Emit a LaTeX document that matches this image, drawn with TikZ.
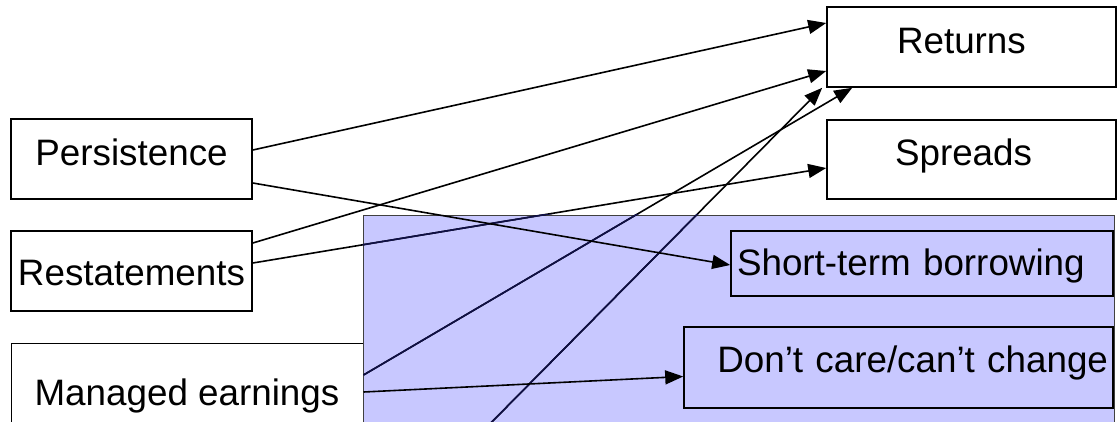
\documentclass[tikz,border=0pt]{standalone}
\usepackage{fontspec}
\setmainfont{Liberation Sans}
\usetikzlibrary{arrows.meta}
\definecolor{panelblue}{RGB}{200,200,255}
\definecolor{undernavy}{RGB}{15,15,70}

\begin{document}
\begin{tikzpicture}[x=1pt, y=-1pt,
  box/.style={draw=black, line width=1.6pt, inner sep=0pt, font=\fontsize{36.8}{44}\selectfont},
  lift/.style={text height=#1, text depth=0pt},
  lead/.style={text width=#1, align=left},
  trail/.style={text width=#1, align=right},
  panel/.style={draw=black!75, line width=1pt, fill=panelblue, inner sep=0pt},
  link/.style={line width=1.6pt, -{Triangle[length=18pt,width=14pt]}},
  under/.style={line width=1.6pt, undernavy}]
  \useasboundingbox (0,0) rectangle (1119,421);
  \clip (0,0) rectangle (1119,421);

  % boxes outside the panel
  \node[box, minimum width=289pt, minimum height=80pt, lift=12pt, lead=149pt] (ret) at (971.5,47) {Returns};
  \node[box, minimum width=289pt, minimum height=79pt, lift=12pt, lead=153pt] (spr) at (971.5,159.5) {Spreads};
  \node[box, minimum width=241pt, minimum height=80pt, lift=12pt] (pers) at (131.5,159) {Persistence};
  \node[box, minimum width=241pt, minimum height=80pt, lift=28pt] (rest) at (131.5,271) {Restatements};
  \node[box, line width=1pt, minimum width=352pt, minimum height=98pt, lift=26pt] (man) at (187,392) {Managed earnings};

  % shaded panel and its boxes
  \node[panel, minimum width=751pt, minimum height=226pt] (panel) at (738.5,328) {};
  \node[box, minimum width=382pt, minimum height=65pt, lift=24pt, lead=370pt] (stb) at (922,263.5) {Short-term borrowing};
  \node[box, minimum width=429pt, minimum height=81pt, lift=9pt, trail=419pt] (dcc) at (898.5,367.5) {Don’t care/can’t change};
  \coordinate (src) at (473,441);

  % links passing under the panel
  \draw[link] ([yshift=8pt]rest.east) -- ([yshift=-8.5pt]spr.west);
  \draw[link] ([yshift=17pt]man.east) -- ([xshift=26pt]ret.south west);
  \draw[link] (src) -- ([xshift=-4pt]ret.south west);
  \begin{scope}
    \clip (panel.north west) rectangle (panel.south east);
    \draw[under] ([yshift=8pt]rest.east) -- ([yshift=-8.5pt]spr.west);
    \draw[under] ([yshift=17pt]man.east) -- ([xshift=26pt]ret.south west);
    \draw[under] (src) -- ([xshift=-4pt]ret.south west);
  \end{scope}

  % links over the panel
  \draw[link] ([yshift=9pt]pers.east) -- ([yshift=24pt]ret.west);
  \draw[link] ([yshift=28pt]rest.east) -- ([yshift=-24pt]ret.west);
  \draw[link] ([yshift=-24pt]pers.east) -- ([yshift=-1.5pt]stb.west);
  \draw[link] (man.east) -- ([yshift=-9pt]dcc.west);
\end{tikzpicture}
\end{document}
